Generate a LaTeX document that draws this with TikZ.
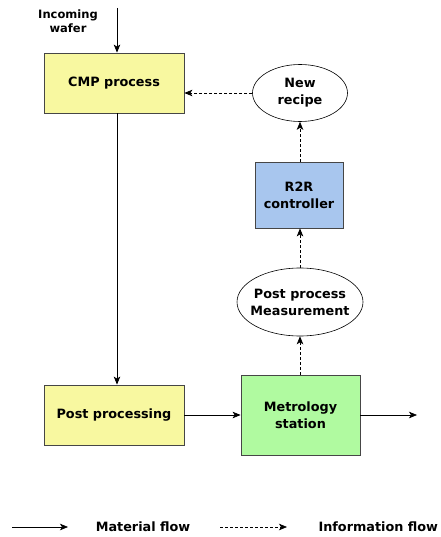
\documentclass[tikz,border=0pt]{standalone}
\usepackage{fontspec}
\setmainfont{DejaVu Sans}
\usetikzlibrary{arrows.meta,shapes.geometric}
\definecolor{procyellow}{RGB}{248,248,160}
\definecolor{metrogreen}{RGB}{176,250,160}
\definecolor{ctrlblue}{RGB}{168,198,238}
\definecolor{edgegray}{RGB}{70,70,70}
\tikzset{
  box/.style={
    draw=edgegray,
    line width=0.8pt,
    align=center,
    inner sep=0pt,
    font=\bfseries\fontsize{12.8}{17}\selectfont
  },
  box-yellow/.style={box, fill=procyellow, minimum width=140pt, minimum height=60pt},
  box-green/.style={box, fill=metrogreen, minimum width=119pt, minimum height=80pt},
  box-blue/.style={box, fill=ctrlblue, minimum width=88pt, minimum height=66pt},
  bubble/.style={box, ellipse, draw=black, line width=0.6pt, fill=white},
  flow/.style={-{Stealth[length=8pt,width=6.5pt,inset=2pt]}, line width=0.7pt},
  info/.style={flow, dash pattern=on 3pt off 2pt},
  plain-text/.style={align=center, font=\bfseries\fontsize{12.8}{17}\selectfont}
}

\begin{document}
\begin{tikzpicture}[x=1pt,y=-1pt]
  \useasboundingbox (0,0) rectangle (440,537);
  % Material path
  \node[plain-text, font=\bfseries\fontsize{11.5}{14}\selectfont] (incoming) at (68,21) {Incoming\\wafer};
  \coordinate (entry) at (117,8);
  \node[box-yellow] (cmp) at (114,83) {CMP process};
  \node[box-yellow] (post) at (114,415) {Post processing};
  \node[box-green] (metro) at (300.5,415) {Metrology\\station};
  \coordinate (exit) at (417,415);
  % Information loop
  \node[bubble, inner xsep=-7pt, minimum width=126pt, minimum height=68pt] (meas) at (300,302) {Post process\\Measurement};
  \node[box-blue] (r2r) at (299,195) {R2R\\controller};
  \node[bubble, minimum width=95pt, minimum height=57pt] (recipe) at (300,93) {New\\recipe};
  \draw[flow] (entry) -- (entry |- cmp.north);
  \draw[flow] (entry |- cmp.south) -- (entry |- post.north);
  \draw[flow] (post.east) -- (metro.west);
  \draw[flow] (metro.east) -- (exit);
  \draw[info] (metro.north -| meas) -- (meas.south);
  \draw[info] (meas.north) -- (meas.north |- r2r.south);
  \draw[info] (recipe.south |- r2r.north) -- (recipe.south);
  \draw[info] (recipe.west) -- (recipe.west -| cmp.east);
  % Legend
  \coordinate (solid-a) at (12,527);
  \coordinate (solid-b) at (68,527);
  \coordinate (dash-a) at (220,527);
  \coordinate (dash-b) at (287,527);
  \draw[flow] (solid-a) -- (solid-b);
  \node[plain-text] (material) at (143,527) {Material flow};
  \draw[info] (dash-a) -- (dash-b);
  \node[plain-text, anchor=west] (information) at (315,527) {Information flow};
\end{tikzpicture}
\end{document}
